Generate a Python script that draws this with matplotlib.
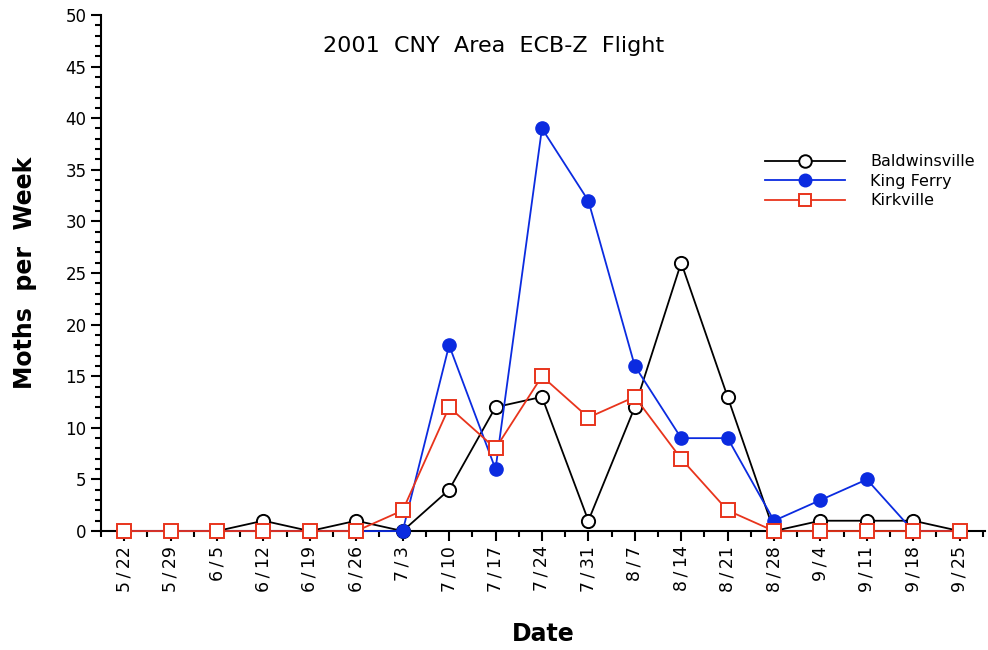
import matplotlib
matplotlib.use("Agg")
import matplotlib.pyplot as plt
from matplotlib.ticker import MultipleLocator

dates = ["5/22", "5/29", "6/5", "6/12", "6/19", "6/26", "7/3", "7/10", "7/17", "7/24",
         "7/31", "8/7", "8/14", "8/21", "8/28", "9/4", "9/11", "9/18", "9/25"]
baldwinsville = [0, 0, 0, 1, 0, 1, 0, 4, 12, 13, 1, 12, 26, 13, 0, 1, 1, 1, 0]
king_ferry = [0, 0, 0, 0, 0, 0, 0, 18, 6, 39, 32, 16, 9, 9, 1, 3, 5, 0, 0]
kirkville = [0, 0, 0, 0, 0, 0, 2, 12, 8, 15, 11, 13, 7, 2, 0, 0, 0, 0, 0]

plt.rcParams['font.family'] = ['DejaVu Sans']
fig = plt.figure(figsize=(9.88, 6.5), dpi=100)
ax = fig.add_axes([0.1022, 0.183, 0.895, 0.794])

x = list(range(len(dates)))
blue = "#0b2be0"
red = "#e8341c"
ax.plot(x, baldwinsville, color="black", lw=1.3, marker="o", ms=9.5,
        mfc="white", mec="black", mew=1.4, label="Baldwinsville", clip_on=False, zorder=3)
ax.plot(x, king_ferry, color=blue, lw=1.3, marker="o", ms=9.5,
        mfc=blue, mec=blue, label="King Ferry", clip_on=False, zorder=4)
ax.plot(x, kirkville, color=red, lw=1.3, marker="s", ms=9.5,
        mfc="white", mec=red, mew=1.4, label="Kirkville", clip_on=False, zorder=5)

ax.set_xlim(-0.5, 18.55)
ax.set_ylim(0, 50)
ax.set_xticks(x)
ax.set_xticklabels([d.replace("/", "\u2009/\u2009") for d in dates], rotation=90, fontsize=12.5)
ax.xaxis.set_minor_locator(MultipleLocator(0.5))
ax.yaxis.set_major_locator(MultipleLocator(5))
ax.yaxis.set_minor_locator(MultipleLocator(1))
ax.tick_params(axis='y', labelsize=12)
ax.tick_params(which='major', direction='out', length=7, width=1.5)
ax.tick_params(which='minor', direction='out', length=4, width=1.5)
for s in ["top", "right"]:
    ax.spines[s].set_visible(False)
for s in ["left", "bottom"]:
    ax.spines[s].set_linewidth(1.5)

ax.set_xlabel("Date", fontsize=17, fontweight="bold", labelpad=22)
ax.set_ylabel("Moths  per  Week", fontsize=17, fontweight="bold", labelpad=20)
ax.text(0.444, 0.94, "2001  CNY  Area  ECB-Z  Flight", transform=ax.transAxes,
        ha="center", va="center", fontsize=16)

ax.legend(loc="upper left", bbox_to_anchor=(0.751, 0.73), frameon=False,
          fontsize=11.5, handlelength=5.0, handletextpad=1.6, labelspacing=0.28,
          borderaxespad=0, borderpad=0, markerscale=0.95)

fig.savefig("out.png", dpi=100)
